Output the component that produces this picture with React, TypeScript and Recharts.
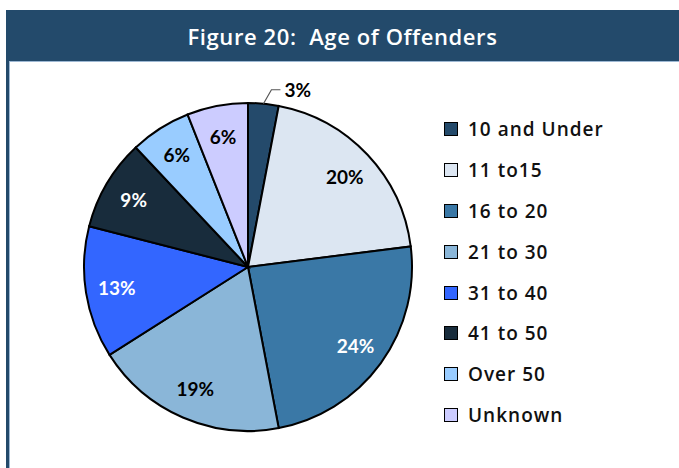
import { Cell, Legend, Pie, PieChart } from 'recharts';

const ageGroups = ['10 and Under', '11 to15', '16 to 20', '21 to 30', '31 to 40', '41 to 50', 'Over 50', 'Unknown'];
const shares = [3, 20, 24, 19, 13, 9, 6, 6];
const sliceColors = ['#244a6b', '#dce6f2', '#3a78a6', '#8ab6d8', '#3366ff', '#182c3c', '#99ccff', '#ccccff'];
const labelColors = ['#000', '#000', '#fff', '#000', '#fff', '#fff', '#000', '#000'];

const data = ageGroups.map((name, i) => ({ name, value: shares[i] }));

const RADIAN = Math.PI / 180;

const renderLabel = (props: any) => {
  const { cx, cy, midAngle, outerRadius, index, value } = props;
  const font = { fontFamily: 'Lato', fontWeight: 700, fontSize: 19 };
  if (index === 0) {
    const sx = cx + outerRadius * Math.cos(-midAngle * RADIAN);
    const sy = cy + outerRadius * Math.sin(-midAngle * RADIAN);
    const ex = sx + 8;
    const ey = sy - 14;
    return (
      <g>
        <polyline points={`${sx},${sy} ${ex},${ey} ${ex + 9},${ey}`} fill="none" stroke="#555" strokeWidth={1.2} />
        <text x={ex + 13} y={ey} dominantBaseline="central" fill="#000" {...font}>
          {value}%
        </text>
      </g>
    );
  }
  const r = outerRadius * 0.81;
  const x = cx + r * Math.cos(-midAngle * RADIAN);
  const y = cy + r * Math.sin(-midAngle * RADIAN);
  return (
    <text x={x} y={y} textAnchor="middle" dominantBaseline="central" fill={labelColors[index]} {...font}>
      {value}%
    </text>
  );
};

const renderLegend = () => (
  <div>
    {data.map((d, i) => (
      <div key={d.name} style={{ display: 'flex', alignItems: 'center', height: 40.8 }}>
        <span
          style={{
            width: 12,
            height: 12,
            background: sliceColors[i],
            border: '1.5px solid #000',
            marginRight: 10,
          }}
        />
        <span style={{ fontFamily: 'Open Sans', fontWeight: 600, fontSize: 19, letterSpacing: 1, color: '#111' }}>
          {d.name}
        </span>
      </div>
    ))}
  </div>
);

export default function App() {
  return (
    <div style={{ position: 'absolute', left: 0, top: 0, width: 679, height: 468, background: '#fff', overflow: 'hidden' }}>
      <div
        style={{
          position: 'absolute',
          left: 6,
          top: 10,
          width: 673,
          height: 51,
          background: '#234a6b',
          borderBottom: '1px solid #9db8d3',
          color: '#fff',
          fontFamily: 'Open Sans',
          fontWeight: 600,
          fontSize: 22,
          display: 'flex',
          alignItems: 'center',
          justifyContent: 'center',
          letterSpacing: 0.6,
        }}
      >
        Figure 20:&nbsp; Age of Offenders
      </div>
      <div style={{ position: 'absolute', left: 6, top: 61, width: 3, height: 407, background: '#234a6b', borderRight: '1px solid #9db8d3' }} />
      <div style={{ position: 'absolute', left: 0, top: 0 }}>
        <PieChart width={679} height={468}>
          <Pie
            data={data}
            dataKey="value"
            nameKey="name"
            cx={243}
            cy={262}
            outerRadius={164}
            startAngle={90}
            endAngle={-270}
            stroke="#000"
            strokeWidth={2}
            label={renderLabel}
            labelLine={false}
            isAnimationActive={false}
          >
            {data.map((d, i) => (
              <Cell key={d.name} fill={sliceColors[i]} />
            ))}
          </Pie>
          <Legend content={renderLegend} wrapperStyle={{ left: 444, top: 109, width: 220 }} />
        </PieChart>
      </div>
    </div>
  );
}
